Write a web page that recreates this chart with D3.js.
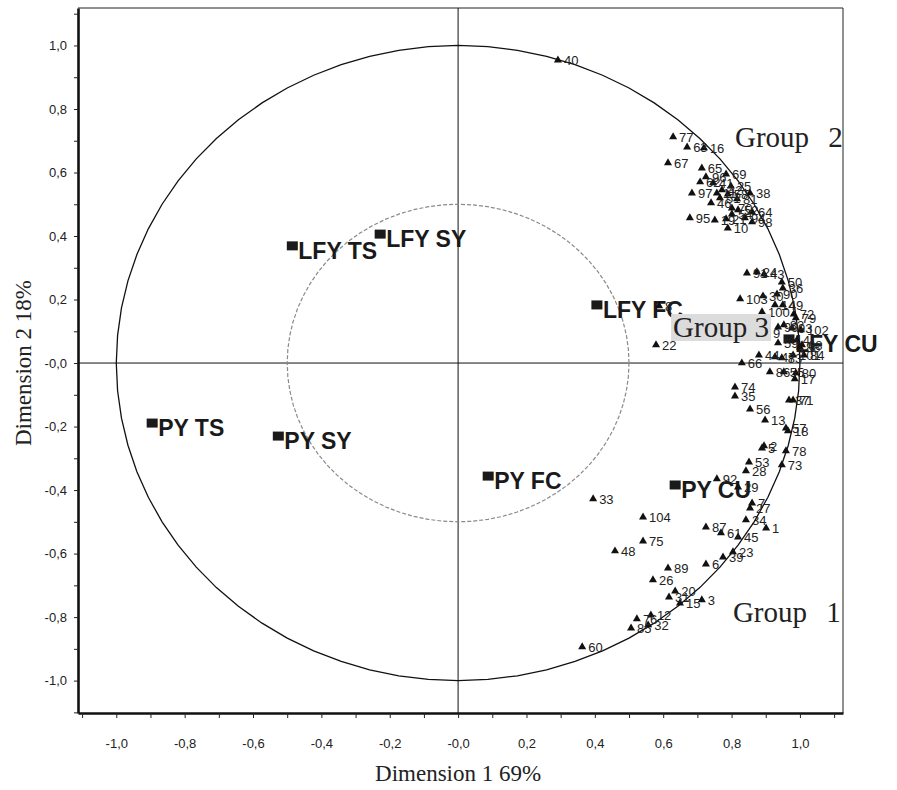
<!DOCTYPE html>
<html lang="en">
<head>
<meta charset="UTF-8">
<title>Dimension 1 x Dimension 2</title>
<script src="https://d3js.org/d3.v7.min.js"></script>
<style>
  body { margin: 0; background: #fff; }
  svg { display: block; }
</style>
</head>
<body>
<svg width="897" height="790"></svg>
<script>
// observations (triangles): label, dim 1, dim 2
var obsLabels = ["40","77","63","16","67","65","96","62","69","25","97","41","42","11","46","51","58","38","81","70","52","64","95","19","21","54","94","98","10","91","24","43",
  "50","36","90","103","30","49","14","100","79","72","9","99","82","93","102","4","88","68","84","59","44","47","83","101","66","86","55","80","17","74","35","37","71","56","13","18","57","5","2","78","53","28","73","92","29","7","27","34","1","87","61","45","23","39","6","89","26","20","31","15","3","104","75","48","33","12","85","32","76","60","22","8"];
var obsX = [0.292,0.629,0.670,0.719,0.614,0.713,0.725,0.708,0.784,0.798,0.684,0.746,0.772,0.757,0.740,0.766,0.789,0.854,0.816,0.801,0.819,0.860,0.678,0.751,0.784,0.801,0.839,0.860,0.789,0.845,0.874,0.895,
  0.947,0.950,0.933,0.825,0.892,0.950,0.927,0.889,0.988,0.982,0.904,0.936,0.953,0.977,1.003,0.991,1.000,1.006,1.012,0.936,0.880,0.927,0.947,0.980,0.830,0.912,0.953,0.988,0.985,0.810,0.810,0.968,0.980,0.854,0.898,0.965,0.959,0.889,0.895,0.959,0.851,0.842,0.947,0.757,0.819,0.860,0.854,0.842,0.901,0.725,0.769,0.819,0.804,0.775,0.725,0.614,0.570,0.635,0.617,0.649,0.713,0.541,0.541,0.459,0.395,0.564,0.506,0.556,0.523,0.363,0.579,0.588];
var obsY = [0.954,0.712,0.680,0.677,0.630,0.614,0.586,0.570,0.595,0.557,0.535,0.567,0.545,0.535,0.504,0.520,0.532,0.535,0.517,0.488,0.482,0.476,0.457,0.450,0.454,0.469,0.457,0.444,0.425,0.283,0.287,0.280,
  0.255,0.236,0.217,0.202,0.211,0.183,0.183,0.161,0.142,0.154,0.094,0.113,0.120,0.110,0.104,0.072,0.050,0.057,0.025,0.063,0.025,0.019,0.016,0.025,0.000,-0.028,-0.028,-0.031,-0.050,-0.076,-0.104,-0.117,-0.117,-0.145,-0.180,-0.214,-0.205,-0.268,-0.261,-0.277,-0.312,-0.340,-0.321,-0.365,-0.391,-0.441,-0.457,-0.494,-0.520,-0.517,-0.535,-0.548,-0.595,-0.611,-0.633,-0.646,-0.683,-0.718,-0.737,-0.756,-0.746,-0.485,-0.561,-0.592,-0.428,-0.794,-0.835,-0.825,-0.806,-0.894,0.057,0.180];

// variables (squares)
var varLabels = ["LFY TS","LFY SY","LFY FC","LFY CU","PY TS","PY SY","PY FC","PY CU"];
var varX = [-0.485,-0.228,0.406,0.968,-0.895,-0.526,0.088,0.635];
var varY = [0.369,0.406,0.183,0.076,-0.189,-0.230,-0.356,-0.384];

// group annotations
var groupLabels = ["Group 2","Group 3","Group 1"];
var groupX = [0.810,0.629,0.804];
var groupY = [0.680,0.082,-0.816];

// axis ticks
var tickVals = [-1,-0.8,-0.6,-0.4,-0.2,0,0.2,0.4,0.6,0.8,1];
var tickLabels = ["-1,0","-0,8","-0,6","-0,4","-0,2","-0,0","0,2","0,4","0,6","0,8","1,0"];
var minorVals = [-1.1,-1,-0.9,-0.8,-0.7,-0.6,-0.5,-0.4,-0.3,-0.2,-0.1,0,0.1,0.2,0.3,0.4,0.5,0.6,0.7,0.8,0.9,1,1.1];

var margin = {top: 8, right: 54, bottom: 77, left: 78},
    width = 897 - margin.left - margin.right,
    height = 790 - margin.top - margin.bottom;

var svg = d3.select("svg");
var g = svg.append("g")
    .attr("transform", "translate(" + margin.left + "," + margin.top + ")");

var x = d3.scaleLinear().domain([-1.112, 1.126]).range([0, width]);
var y = d3.scaleLinear().domain([-1.102, 1.118]).range([height, 0]);

function tickText(d) {
    var i = tickVals.findIndex(function(v) { return Math.abs(v - d) < 1e-9; });
    return i < 0 ? "" : tickLabels[i];
}

// frame (top / right)
g.append("line").attr("x1", 0).attr("x2", width).attr("y1", 0).attr("y2", 0)
    .attr("stroke", "#222").attr("stroke-width", 1);
g.append("line").attr("x1", width).attr("x2", width).attr("y1", 0).attr("y2", height)
    .attr("stroke", "#222").attr("stroke-width", 1);

// cross lines at 0
g.append("line").attr("x1", x(0)).attr("x2", x(0)).attr("y1", 0).attr("y2", height)
    .attr("stroke", "#111").attr("stroke-width", 1);
g.append("line").attr("x1", 0).attr("x2", width).attr("y1", y(0)).attr("y2", y(0))
    .attr("stroke", "#111").attr("stroke-width", 1);

// correlation circles
var angles = d3.range(0, 361, 5);
function circlePath(r) {
    return d3.line()
        .x(function(a) { return x(r * Math.cos(a * Math.PI / 180)); })
        .y(function(a) { return y(r * Math.sin(a * Math.PI / 180)); })(angles);
}

g.append("path").attr("d", circlePath(1))
    .attr("fill", "none").attr("stroke", "#111").attr("stroke-width", 1.3);
g.append("path").attr("d", circlePath(0.5))
    .attr("fill", "none").attr("stroke", "#8a8a8a").attr("stroke-width", 1.2)
    .attr("stroke-dasharray", "4,2");

// axes
var xAxis = g.append("g")
    .attr("transform", "translate(0," + height + ")")
    .call(d3.axisBottom(x).tickValues(minorVals).tickFormat(tickText)
        .tickSizeInner(5).tickSizeOuter(0).tickPadding(21));
var yAxis = g.append("g")
    .call(d3.axisLeft(y).tickValues(minorVals).tickFormat(tickText)
        .tickSizeInner(4).tickSizeOuter(0).tickPadding(7));

[xAxis, yAxis].forEach(function(a) {
    a.select(".domain").attr("stroke", "#111").attr("stroke-width", 2.6);
    a.selectAll(".tick line").attr("stroke", "#222").attr("stroke-width", 1);
    a.selectAll(".tick text")
        .attr("fill", "#222")
        .style("font-family", "'Liberation Sans', Arial, sans-serif")
        .style("font-size", "13px");
});

// variables
var vars = varLabels.map(function(l, i) { return {label: l, x: varX[i], y: varY[i]}; });
g.selectAll(".var")
    .data(vars)
  .enter().append("rect")
    .attr("class", "var")
    .attr("x", function(d) { return x(d.x) - 5.5; })
    .attr("y", function(d) { return y(d.y) - 4.5; })
    .attr("width", 11)
    .attr("height", 9)
    .attr("fill", "#1a1a1a");
g.selectAll(".varlabel")
    .data(vars)
  .enter().append("text")
    .attr("class", "varlabel")
    .attr("x", function(d) { return x(d.x) + 6; })
    .attr("y", function(d) { return y(d.y) + 13; })
    .attr("fill", "#1a1a1a")
    .style("font-family", "'Liberation Sans', Arial, sans-serif")
    .style("font-weight", "bold")
    .style("font-size", "23px")
    .text(function(d) { return d.label; });

// observations
var obs = obsLabels.map(function(l, i) { return {label: l, x: obsX[i], y: obsY[i]}; });
var tri = d3.symbol().type(d3.symbolTriangle).size(28);
g.selectAll(".obs")
    .data(obs)
  .enter().append("path")
    .attr("class", "obs")
    .attr("d", tri)
    .attr("transform", function(d) { return "translate(" + x(d.x) + "," + y(d.y) + ")"; })
    .attr("fill", "#111");
g.selectAll(".obslabel")
    .data(obs)
  .enter().append("text")
    .attr("class", "obslabel")
    .attr("x", function(d) { return x(d.x) + 6; })
    .attr("y", function(d) { return y(d.y) + 5; })
    .attr("fill", "#222")
    .style("font-family", "'Liberation Sans', Arial, sans-serif")
    .style("font-size", "13px")
    .text(function(d) { return d.label; });

// group annotations
groupLabels.forEach(function(l, i) {
    var t = g.append("text")
        .attr("x", x(groupX[i]))
        .attr("y", y(groupY[i]))
        .attr("fill", "#222")
        .style("font-family", "'Liberation Serif', 'Times New Roman', serif")
        .style("font-size", "29px")
        .style("word-spacing", l === "Group 3" ? "0px" : "12px")
        .text(l);
    if (l === "Group 3") {
        var b = t.node().getBBox();
        g.insert("rect", function() { return t.node(); })
            .attr("x", b.x - 2).attr("y", b.y + 3)
            .attr("width", b.width + 4).attr("height", b.height - 5)
            .attr("fill", "#dcdcdc");
    }
});

// axis titles
svg.append("text")
    .attr("x", margin.left + x(0))
    .attr("y", 781)
    .attr("text-anchor", "middle")
    .attr("fill", "#222")
    .style("font-family", "'Liberation Serif', 'Times New Roman', serif")
    .style("font-size", "23px")
    .text("Dimension 1 69%");
svg.append("text")
    .attr("transform", "translate(31," + (margin.top + y(0)) + ") rotate(-90)")
    .attr("text-anchor", "middle")
    .attr("fill", "#222")
    .style("font-family", "'Liberation Serif', 'Times New Roman', serif")
    .style("font-size", "23px")
    .text("Dimension 2 18%");
</script>
</body>
</html>
